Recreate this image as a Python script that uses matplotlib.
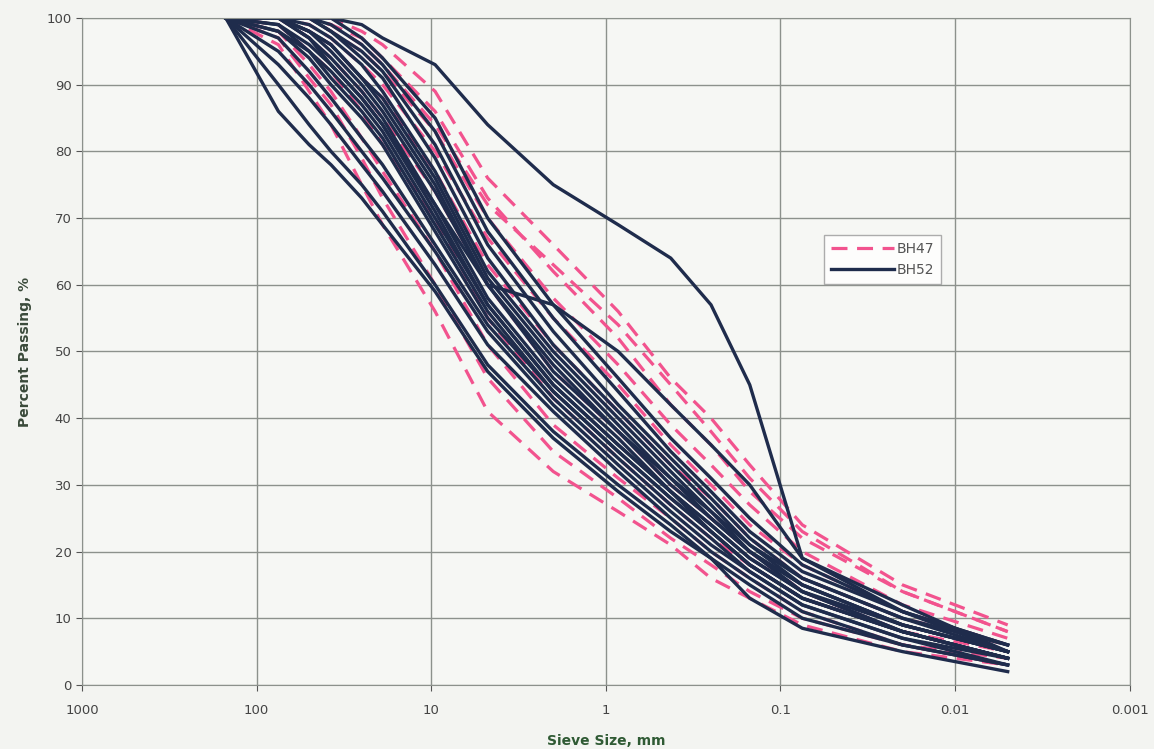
import matplotlib.pyplot as plt
import numpy as np

# sieve sizes (mm) at which each curve was read
sizes = [150, 75, 50, 37.5, 25, 19, 9.5, 4.75, 2.0, 0.85, 0.425, 0.25, 0.15, 0.075, 0.02, 0.005]

# BH47 - percent passing (pink dashed)
bh47 = [
    [100, 96, 89, 84, 75, 69, 56, 41, 32, 26, 21, 16, 13, 9, 5, 3],
    [100, 97, 91, 87, 79, 73, 60, 46, 35, 28, 22, 18, 14, 10, 6, 3],
    [100, 98, 93, 89, 82, 77, 65, 51, 39, 31, 25, 20, 16, 11, 6, 4],
    [100, 99, 95, 92, 86, 81, 70, 55, 43, 34, 27, 22, 18, 13, 8, 4],
    [100, 100, 97, 94, 89, 85, 74, 60, 47, 38, 30, 25, 20, 14, 8, 5],
    [100, 100, 98, 96, 91, 88, 77, 63, 51, 41, 33, 28, 22, 16, 10, 6],
    [100, 100, 99, 97, 93, 90, 80, 67, 55, 45, 36, 30, 24, 18, 11, 6],
    [100, 100, 100, 98, 95, 92, 83, 70, 58, 48, 39, 33, 27, 20, 12, 7],
    [100, 100, 100, 99, 97, 94, 86, 73, 62, 52, 42, 36, 29, 22, 14, 8],
    [100, 100, 100, 100, 98, 96, 89, 76, 66, 56, 46, 40, 33, 24, 15, 9],
    [100, 100, 100, 99, 96, 93, 84, 72, 63, 54, 45, 38, 31, 23, 14, 8],
]

# BH52 - percent passing (navy solid)
bh52 = [
    [100, 86, 81, 78, 73, 69, 59, 47, 37, 29, 23, 19, 15, 10, 6, 3],
    [100, 90, 84, 80, 75, 71, 60, 48, 38, 30, 24, 19, 13, 8.5, 5, 2],
    [100, 93, 88, 84, 78, 74, 63, 51, 41, 32, 25, 20, 16, 11, 6, 3],
    [100, 95, 90, 86, 80, 76, 65, 53, 42, 33, 26, 21, 17, 12, 7, 3],
    [100, 97, 92, 88, 82, 78, 66, 54, 43, 34, 27, 22, 17, 12, 7, 4],
    [100, 98, 94, 90, 85, 81, 68, 55, 44, 35, 28, 23, 18, 13, 8, 4],
    [100, 98, 95, 91, 86, 82, 69, 56, 44, 35, 28, 23, 18, 13, 8, 4],
    [100, 99, 95, 92, 87, 83, 70, 57, 45, 36, 29, 23, 18, 13, 8, 4],
    [100, 99, 96, 93, 88, 84, 71, 57, 45, 36, 29, 24, 19, 14, 8, 4],
    [100, 100, 97, 94, 89, 85, 72, 58, 46, 37, 29, 24, 19, 14, 8, 4],
    [100, 100, 98, 95, 90, 86, 74, 60, 47, 38, 30, 25, 20, 14, 9, 5],
    [100, 100, 98, 96, 91, 87, 75, 60, 48, 38, 31, 25, 20, 15, 9, 5],
    [100, 100, 98, 96, 91, 88, 76, 61, 49, 39, 31, 26, 20, 15, 9, 5],
    [100, 100, 99, 97, 93, 89, 77, 62, 50, 40, 32, 26, 21, 15, 9, 5],
    [100, 100, 100, 98, 94, 91, 79, 64, 51, 41, 33, 27, 21, 16, 10, 5],
    [100, 100, 100, 98, 95, 92, 81, 66, 53, 42, 34, 28, 22, 16, 10, 6],
    [100, 100, 100, 99, 96, 93, 83, 68, 55, 44, 35, 29, 23, 17, 11, 6],
    [100, 100, 100, 100, 97, 94, 85, 70, 57, 46, 37, 31, 25, 18, 11, 6],
    [100, 100, 97, 93, 88, 84, 72, 60, 57, 50, 42, 36, 30, 19, 11, 5],
    [100, 100, 100, 100, 99, 97, 93, 84, 75, 69, 64, 57, 45, 19, 12, 5],
]

xticks = [1000, 100, 10, 1, 0.1, 0.01, 0.001]
xticklabels = ['1000', '100', '10', '1', '0.1', '0.01', '0.001']

pink = '#f2538e'
navy = '#1f2c4c'
grid = '#8c918c'

fig = plt.figure(figsize=(11.54, 7.49), dpi=100, facecolor='#f3f4f1')
ax = fig.add_axes([0.071, 0.0855, 0.908, 0.8905])
ax.set_facecolor('#f6f7f4')

for i, p in enumerate(bh47):
    ax.plot(sizes, p, color=pink, lw=2.3, dashes=(5, 3),
            label='BH47' if i == 0 else None)
for i, p in enumerate(bh52):
    ax.plot(sizes, p, color=navy, lw=2.4,
            label='BH52' if i == 0 else None)

ax.set_xscale('log')
ax.set_xlim(1000, 0.001)
ax.set_ylim(0, 100)
ax.set_xticks(xticks)
ax.set_xticklabels(xticklabels)
ax.minorticks_off()
ax.set_yticks(range(0, 101, 10))
ax.grid(True, color=grid, lw=1)
for s in ax.spines.values():
    s.set_color(grid)
ax.tick_params(colors='#555555', labelsize=9.5, length=4, labelcolor='#444444')
ax.tick_params(axis='x', pad=10)

ax.set_xlabel('Sieve Size, mm', fontsize=10, fontweight='bold', color='#2f5a34', labelpad=12)
ax.set_ylabel('Percent Passing, %', fontsize=10, fontweight='bold', color='#3a4a3a', labelpad=10)

leg = ax.legend(loc='upper left', bbox_to_anchor=(0.702, 0.685), fontsize=10,
                frameon=True, fancybox=False, handlelength=4.5, labelspacing=0.5,
                handletextpad=0.2, borderpad=0.5)
leg.get_frame().set_edgecolor('#999999')
leg.get_frame().set_facecolor('white')
for t in leg.get_texts():
    t.set_color('#555555')

fig.savefig('out.png', dpi=100, facecolor=fig.get_facecolor())
